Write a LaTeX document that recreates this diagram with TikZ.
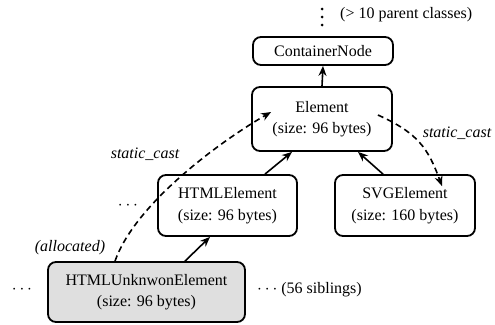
\documentclass[tikz,border=0pt]{standalone}
\usepackage{fontspec}
\setmainfont{Liberation Serif}
\usetikzlibrary{arrows.meta}
\begin{document}
\begin{tikzpicture}[x=1pt,y=-1pt,
  font=\fontsize{16}{21.5}\selectfont,
  cls/.style={draw,line width=1.8pt,rounded corners=8pt,align=center,inner sep=0pt},
  inh/.style={line width=1.6pt,-{Stealth[length=10pt,width=8pt]}},
  cast/.style={line width=1.6pt,dash pattern=on 6pt off 4pt,-{Stealth[length=10pt,width=8pt]}},
  lbl/.style={inner sep=0pt}]
\useasboundingbox (0,0) rectangle (495,324);
\node[cls,minimum width=140pt,minimum height=28pt] (cont) at (323,51) {ContainerNode};
\node[cls,minimum width=140pt,minimum height=64pt] (elem) at (322,119) {Element\\(size: 96 bytes)};
\node[cls,minimum width=139pt,minimum height=61pt] (html) at (227.5,205.5) {HTMLElement\\(size: 96 bytes)};
\node[cls,minimum width=140pt,minimum height=61pt] (svg) at (405,205.5) {SVGElement\\(size: 160 bytes)};
\node[cls,fill=gray!25,minimum width=197pt,minimum height=60pt] (unk) at (146.5,292) {HTMLUnknwonElement\\(size: 96 bytes)};
\foreach \yy in {9,17,25} \fill (322,\yy) circle (1.5pt);
\node[lbl,anchor=west] (par) at (340,15) {(> 10 parent classes)};
\node[lbl,font=\fontsize{16}{19}\itshape] (sc1) at (145,154) {static\_cast};
\node[lbl,font=\fontsize{16}{19}\itshape] (sc2) at (457,133) {static\_cast};
\node[lbl,font=\fontsize{16}{19}\itshape] (alloc) at (70,248) {(allocated)};
\node[lbl] (d1) at (22,290) {$\cdots$};
\node[lbl] (d2) at (128,206) {$\cdots$};
\node[lbl,anchor=west] (sib) at (257,290) {$\cdots$ (56 siblings)};
\draw[inh] (elem.north) -- (cont.south);
\draw[inh] ([xshift=37.5pt]html.north) -- ([xshift=-30pt]elem.south);
\draw[inh] ([xshift=-22pt]svg.north) -- ([xshift=36pt]elem.south);
\draw[inh] ([xshift=38.5pt]unk.north) -- ([xshift=-17.5pt]html.south);
\draw[cast] ([xshift=-31.5pt]unk.north) .. controls +(20,-57) and +(-52,30) .. ([xshift=20pt,yshift=7pt]elem.west);
\draw[cast] ([xshift=-15pt,yshift=4pt]elem.east) .. controls +(40,18) and +(-14,-38) .. ([xshift=37pt,yshift=-12pt]svg.north);
\end{tikzpicture}
\end{document}
